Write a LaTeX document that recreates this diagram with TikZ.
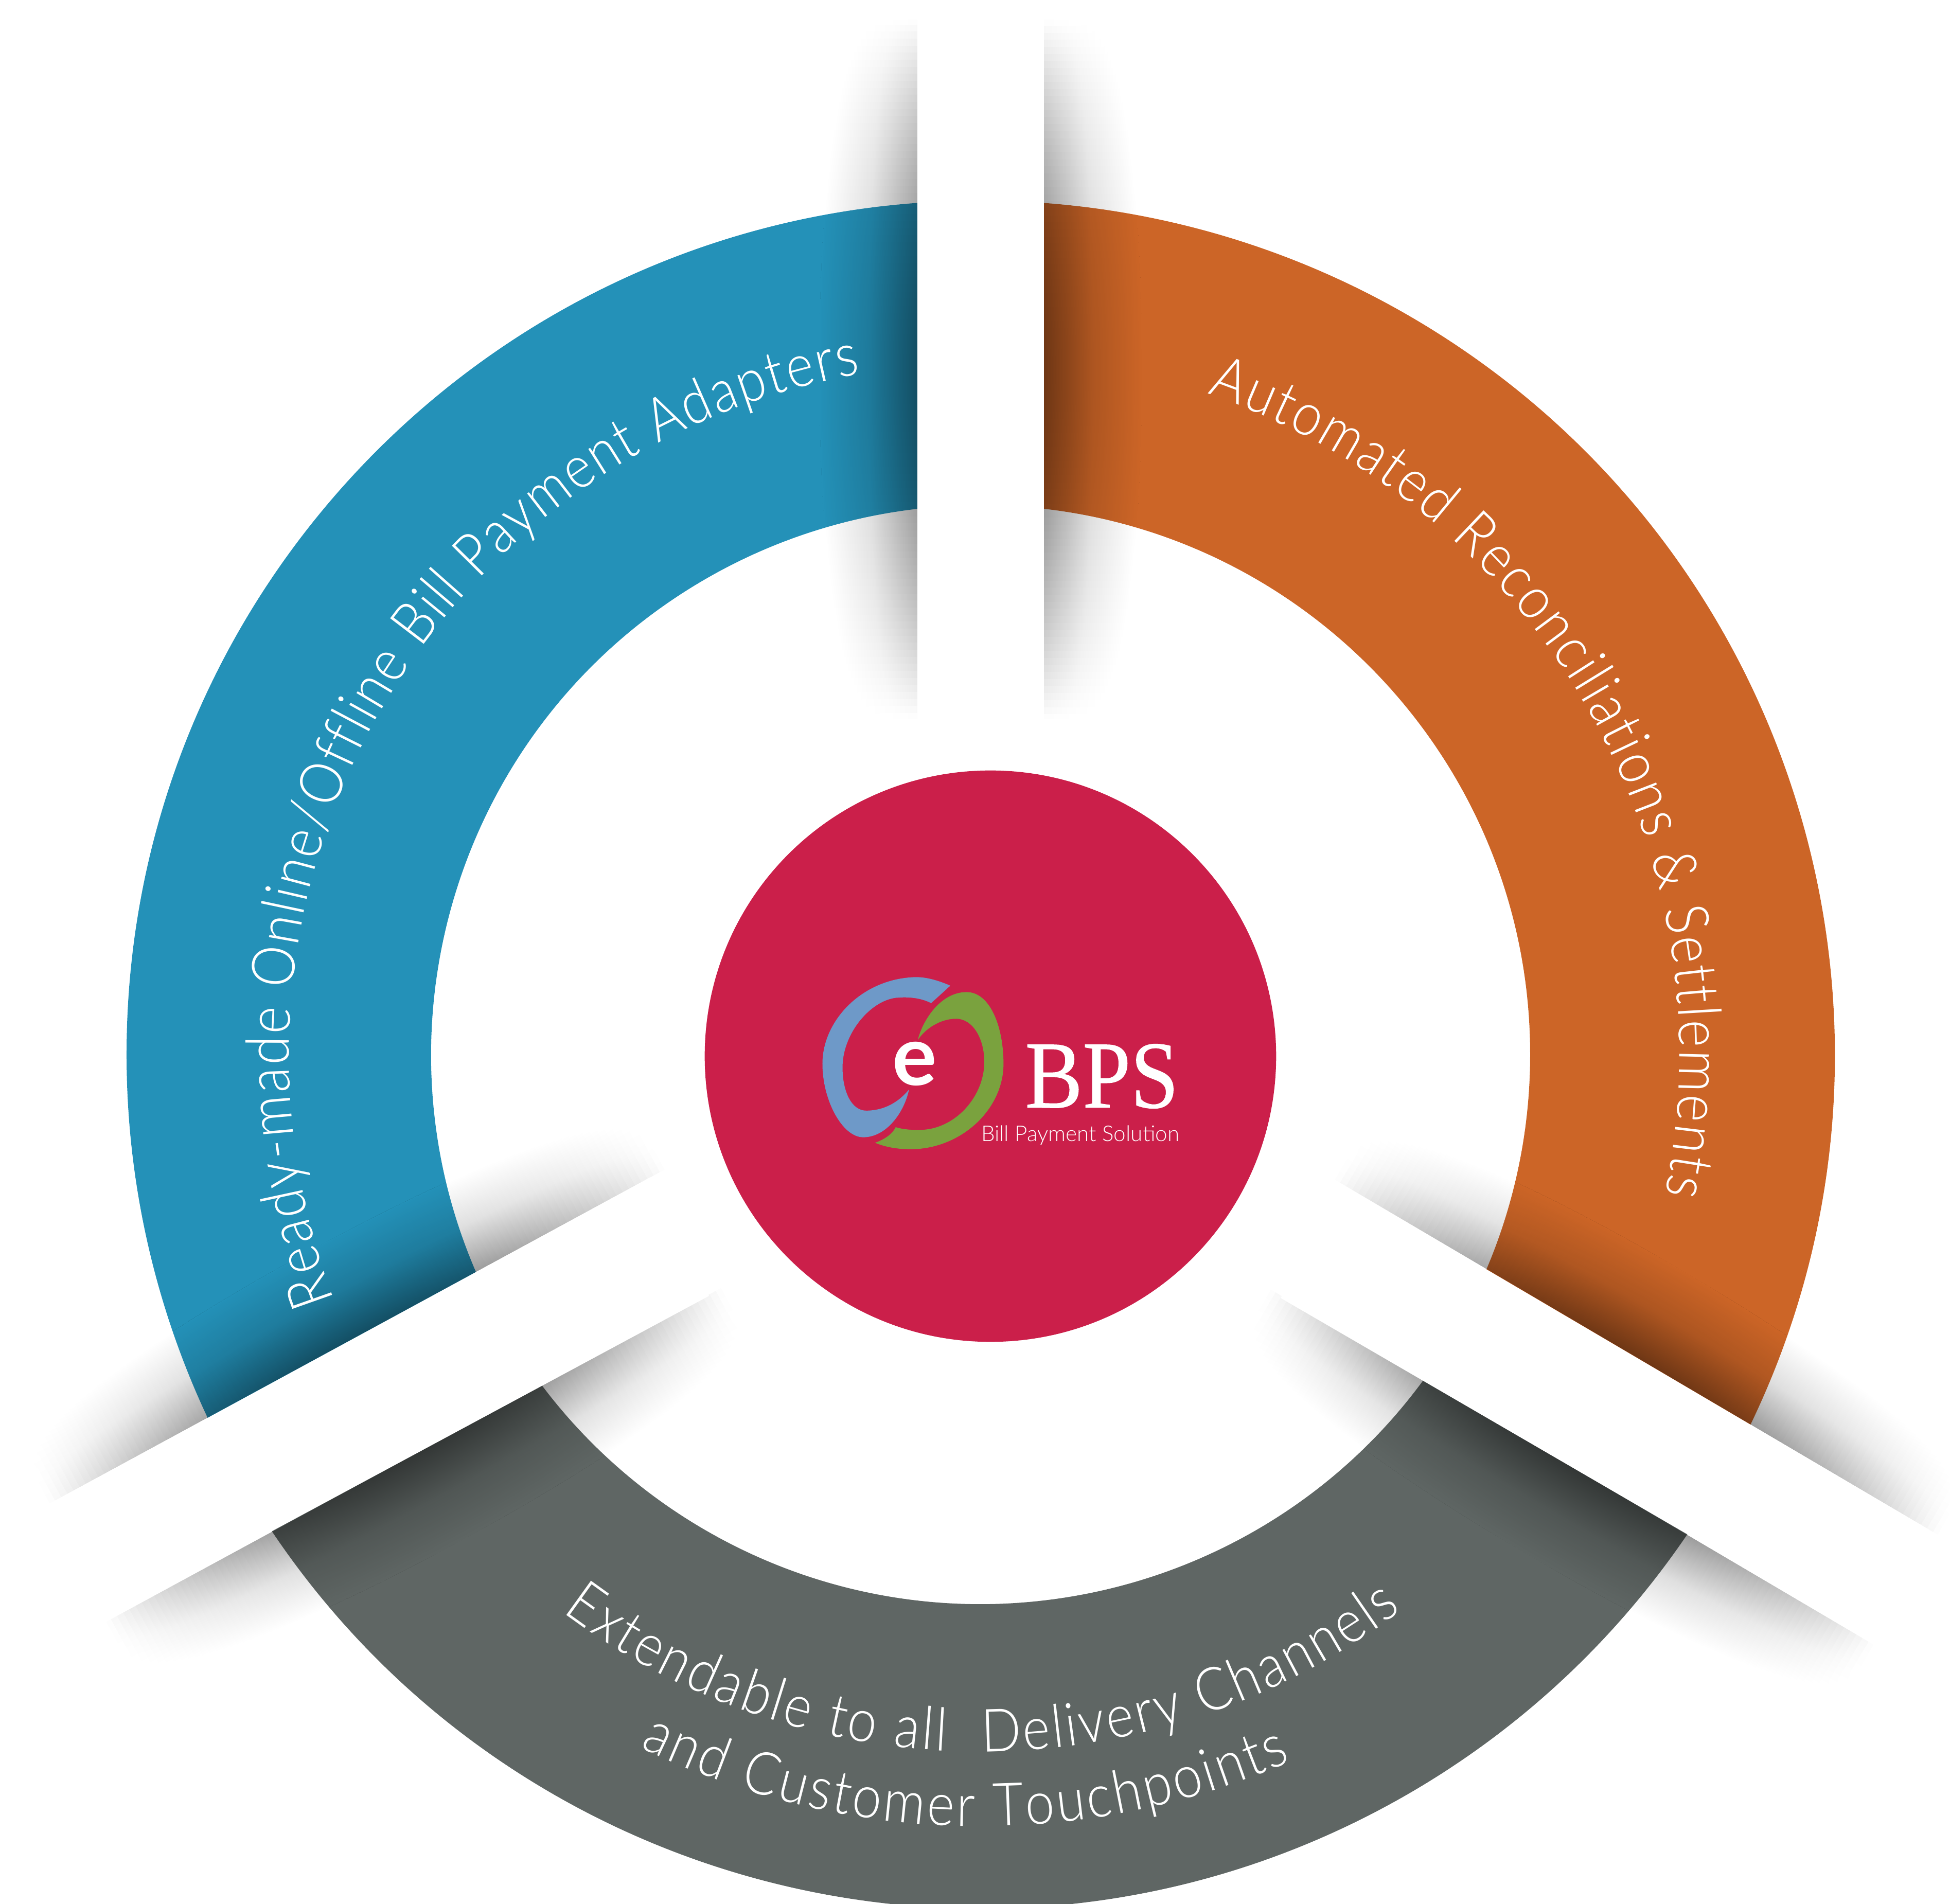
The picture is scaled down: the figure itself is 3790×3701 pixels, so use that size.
\documentclass[tikz,border=0pt]{standalone}
\usepackage{fontspec}
\usetikzlibrary{fadings,decorations.text}
\newfontfamily\labelfont[FakeStretch=0.88]{Lato Light}
\newfontfamily\billfont{Lato Light}
\newfontfamily\logofont[FakeBold=0.6]{Liberation Serif}
\setmainfont{Lato}
\definecolor{ringblue}{RGB}{36,145,184}
\definecolor{ringorange}{RGB}{204,101,39}
\definecolor{ringgray}{RGB}{95,102,100}
\definecolor{hubred}{RGB}{203,31,74}
\definecolor{logoblue}{RGB}{110,153,200}
\definecolor{logogreen}{RGB}{122,162,62}
\begin{tikzfadingfrompicture}[name=bandshade]
  \foreach \y in {-25,-24.5,...,24.5} {
    \pgfmathsetmacro{\h}{1-((\y+0.25)/25)*((\y+0.25)/25)}
    \pgfmathsetmacro{\p}{100-46*\h}
    \pgfmathsetmacro{\q}{100-15*\h}
    \pgfmathsetmacro{\w}{50*sqrt(sqrt(\h))-25}
    \shade[left color=transparent!\p, right color=transparent!100, middle color=transparent!\q]
      (-25bp,\y bp) rectangle (\w bp,{\y bp+0.55bp});
  }
\end{tikzfadingfrompicture}
\newcommand{\bandtext}{\labelfont\fontsize{33}{33}\selectfont\color{white}}
\newcommand{\ringsector}[2]{(#1:1660) arc[start angle=#1,end angle=#2,radius=1660]
  -- (#2:1068) arc[start angle=#2,end angle=#1,radius=1068] -- cycle}
\newcommand{\bandshadow}[2]{\fill[black,path fading=bandshade,transform canvas={shift={(#1)},rotate=#2}]
  (0,-680) rectangle (190,680);}
\tikzset{
  curvedlabel/.style n args={2}{decorate,decoration={text along path,text={|\bandtext|#2},text align={fit to path}}},
  logotext/.style={text=white,inner sep=0pt}
}
\begin{document}
\begin{tikzpicture}[x=0.01cm,y=0.01cm]
  \useasboundingbox (-1906,-1651) rectangle (1884,2050);
  \fill[ringblue] \ringsector{90}{209};
  \fill[ringorange] \ringsector{-30}{90};
  \fill[ringgray] \ringsector{209}{330};
  \bandshadow{-123,1332}{180}
  \bandshadow{123,1332}{0}
  \bandshadow{-1212,-548}{118.5}
  \bandshadow{-1102,-778}{-61.5}
  \bandshadow{1274,-588}{59.5}
  \bandshadow{1150,-802}{-120.5}
  \fill[white] (-123,2050) rectangle (123,672);
  \fill[white] (-1782,-858) -- (-643,-239) -- (-528,-469) -- (-1676,-1087) -- cycle;
  \fill[white] (707,-255) -- (1841,-922) -- (1717,-1132) -- (583,-473) -- cycle;
  \path[curvedlabel={}{Ready-made Online/Offline Bill Payment Adapters}]
    (200.8:1344) arc[start angle=200.8,end angle=100,radius=1344];
  \path[curvedlabel={}{Automated Reconciliations {\&} Settlements}]
    (71.1:1358) arc[start angle=71.1,end angle=-11.5,radius=1358];
  \path[curvedlabel={}{Extendable to all {\ }Delivery Channels}]
    (233.1:1355) arc[start angle=233.1,end angle=307.1,radius=1355];
  \path[curvedlabel={}{and Customer Touchpoints}]
    (243.8:1500) arc[start angle=243.8,end angle=293.7,radius=1500];
  \node[circle,fill=hubred,minimum size=11.1cm,inner sep=0pt] (hub) at (19,-3) {};
  \begin{scope}[shift={(-4.06cm,2.5cm)},x=0.00574cm,y=-0.00357cm]
    \fill[logoblue] (605,325) .. controls (540,280) and (500,275) .. (470,280)
      .. controls (300,300) and (172,520) .. (172,750)
      .. controls (172,950) and (240,1150) .. (310,1150)
      .. controls (390,1150) and (450,1010) .. (465,890)
      .. controls (430,960) and (380,1005) .. (320,1005)
      .. controls (270,1005) and (240,900) .. (240,770)
      .. controls (240,580) and (340,395) .. (430,390)
      .. controls (470,385) and (510,395) .. (540,420) -- cycle;
    \fill[logogreen] (495,620) .. controls (510,520) and (570,360) .. (660,360)
      .. controls (740,360) and (785,550) .. (785,750)
      .. controls (785,1000) and (640,1215) .. (470,1215)
      .. controls (420,1215) and (380,1200) .. (350,1180)
      .. controls (385,1160) and (410,1130) .. (420,1095)
      .. controls (450,1110) and (480,1110) .. (500,1110)
      .. controls (620,1110) and (720,930) .. (720,740)
      .. controls (720,610) and (680,505) .. (625,505)
      .. controls (570,505) and (520,560) .. (495,620) -- cycle;
    \node[logotext,font=\bfseries\fontsize{46}{46}\selectfont] (elogo) at (485,750) {e};
    \node[logotext,font=\logofont\fontsize{53}{53}\selectfont,xscale=0.9] (bpslogo) at (1118,818) {BPS};
    \node[logotext,font=\billfont\fontsize{12}{12}\selectfont] (billlogo) at (1045,1140) {Bill Payment Solution};
  \end{scope}
\end{tikzpicture}
\end{document}
